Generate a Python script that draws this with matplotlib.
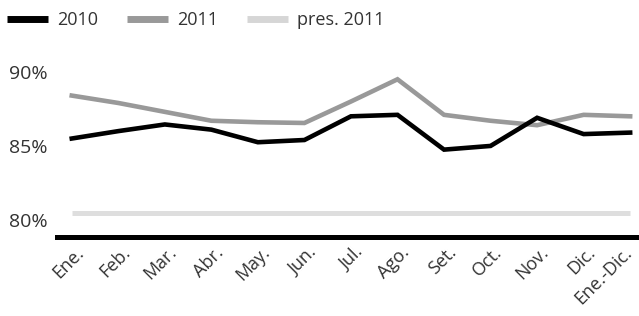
import matplotlib
matplotlib.use("Agg")
import matplotlib.pyplot as plt
from matplotlib.lines import Line2D
import matplotlib.transforms as mtransforms

months = ["Ene.", "Feb.", "Mar.", "Abr.", "May.", "Jun.", "Jul.", "Ago.",
          "Set.", "Oct.", "Nov.", "Dic.", "Ene.-Dic."]
s2010 = [85.5, 86.0, 86.45, 86.1, 85.25, 85.4, 87.0, 87.1, 84.75, 85.0, 86.9, 85.8, 85.9]
s2011 = [88.4, 87.9, 87.3, 86.7, 86.6, 86.55, 88.0, 89.5, 87.1, 86.7, 86.4, 87.1, 87.0]
pres2011 = [80.5] * 13
yticks = [80, 85, 90]
ytick_labels = ["80%", "85%", "90%"]

plt.rcParams['font.family'] = ['Open Sans', 'DejaVu Sans']
txt = '#333333'

fig = plt.figure(figsize=(6.39, 3.16), dpi=100)
ax = fig.add_axes([0.089, 0.25, 0.911, 0.56])

x = list(range(len(months)))
ax.plot(x, pres2011, color='#dedede', lw=3.6, solid_capstyle='butt')
ax.plot(x, s2011, color='#999999', lw=3.3, solid_joinstyle='miter')
ax.plot(x, s2010, color='#000000', lw=3.3, solid_joinstyle='miter')

ax.set_xlim(-0.32, 12.19)
ax.set_ylim(78.85, 90.8)
ax.set_yticks(yticks)
ax.set_yticklabels(ytick_labels, fontsize=14, color=txt)
ax.set_xticks(x)
ax.set_xticklabels([])
base = mtransforms.blended_transform_factory(ax.transData, ax.transAxes)
for i, m in enumerate(months):
    dx = -5 if i == len(months) - 1 else 2
    off = mtransforms.ScaledTranslation(dx/72, -4.5/72, fig.dpi_scale_trans)
    ax.text(i, 0, m, transform=base + off, rotation=45, ha='right', va='top',
            rotation_mode='anchor', fontsize=13, color=txt, clip_on=False)
ax.tick_params(length=0, pad=7)
ax.tick_params(axis='y', pad=7)
for s in ['top', 'right', 'left']:
    ax.spines[s].set_visible(False)
ax.spines['bottom'].set_linewidth(3.6)
ax.spines['bottom'].set_color('black')

handles = [Line2D([], [], color='#000000', lw=5, solid_capstyle='butt'),
           Line2D([], [], color='#999999', lw=5, solid_capstyle='butt'),
           Line2D([], [], color='#d6d6d6', lw=5, solid_capstyle='butt')]
leg = fig.legend(handles, ["2010", "2011", "pres. 2011"], loc='center left',
                 bbox_to_anchor=(0.011, 0.937), ncol=3, frameon=False,
                 fontsize=13, handlelength=2.27, handletextpad=0.5,
                 columnspacing=1.6, borderpad=0, borderaxespad=0)
for t in leg.get_texts():
    t.set_color(txt)

fig.savefig("out.png", dpi=100)
